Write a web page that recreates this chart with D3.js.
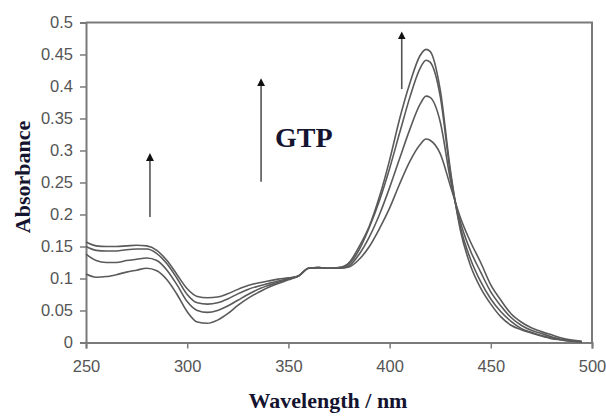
<!DOCTYPE html>
<html>
<head>
<meta charset="utf-8">
<script src="https://cdn.jsdelivr.net/npm/d3@7/dist/d3.min.js"></script>
<style>
  body { margin: 0; background: #fff; }
  svg { display: block; }
  .tick text { font-family: 'Liberation Sans', Arial, sans-serif; }
</style>
</head>
<body>
<svg></svg>
<script>
const width = 606;
const height = 416;

// wavelength grid (nm)
const wavelengths = [250, 255, 260, 265, 270, 275, 280, 285, 290, 295, 300, 305, 310, 315, 320, 325, 330, 335, 340, 345, 350, 355, 360, 365, 370, 375, 380, 385, 390, 395, 400, 405, 410, 415, 418, 420, 425, 430, 435, 440, 445, 450, 455, 460, 465, 470, 475, 480, 485, 490, 495];

// absorbance spectra, increasing GTP
const spec1 = [0.107, 0.102, 0.103, 0.106, 0.110, 0.113, 0.116, 0.112, 0.098, 0.075, 0.048, 0.032, 0.030, 0.035, 0.045, 0.058, 0.069, 0.078, 0.086, 0.092, 0.098, 0.104, 0.116, 0.117, 0.116, 0.116, 0.118, 0.130, 0.150, 0.178, 0.210, 0.248, 0.283, 0.309, 0.318, 0.316, 0.295, 0.245, 0.195, 0.157, 0.125, 0.090, 0.066, 0.045, 0.032, 0.023, 0.017, 0.012, 0.007, 0.004, 0.002];
const spec2 = [0.138, 0.128, 0.125, 0.125, 0.128, 0.130, 0.132, 0.128, 0.113, 0.090, 0.064, 0.050, 0.047, 0.050, 0.057, 0.066, 0.075, 0.083, 0.089, 0.094, 0.099, 0.104, 0.116, 0.117, 0.116, 0.116, 0.120, 0.138, 0.165, 0.200, 0.242, 0.288, 0.333, 0.372, 0.385, 0.383, 0.345, 0.255, 0.188, 0.143, 0.110, 0.079, 0.057, 0.039, 0.027, 0.019, 0.014, 0.009, 0.005, 0.003, 0.001];
const spec3 = [0.150, 0.144, 0.143, 0.143, 0.145, 0.146, 0.146, 0.139, 0.123, 0.100, 0.075, 0.062, 0.060, 0.062, 0.068, 0.076, 0.083, 0.088, 0.092, 0.096, 0.100, 0.104, 0.116, 0.117, 0.116, 0.117, 0.123, 0.145, 0.180, 0.222, 0.272, 0.328, 0.383, 0.428, 0.441, 0.438, 0.385, 0.265, 0.180, 0.130, 0.095, 0.068, 0.048, 0.033, 0.022, 0.016, 0.011, 0.007, 0.004, 0.002, 0.001];
const spec4 = [0.157, 0.151, 0.150, 0.150, 0.151, 0.152, 0.151, 0.144, 0.128, 0.106, 0.084, 0.072, 0.070, 0.071, 0.076, 0.083, 0.089, 0.093, 0.096, 0.099, 0.101, 0.104, 0.116, 0.117, 0.116, 0.117, 0.125, 0.150, 0.182, 0.228, 0.285, 0.350, 0.405, 0.448, 0.458, 0.455, 0.395, 0.270, 0.175, 0.120, 0.085, 0.060, 0.040, 0.027, 0.020, 0.015, 0.010, 0.006, 0.004, 0.002, 0.001];
const spectra = [spec1, spec2, spec3, spec4];

const xTicks = [250, 300, 350, 400, 450, 500];
const yTicks = [0, 0.05, 0.1, 0.15, 0.2, 0.25, 0.3, 0.35, 0.4, 0.45, 0.5];

// arrows: [wavelength, from absorbance, to absorbance]
const arrows = [[281.6, 0.196, 0.296], [336.5, 0.251, 0.413], [406, 0.396, 0.486]];
const label = { text: "GTP", x: 343.4, y: 0.305 };

const margin = { left: 86, right: 14, top: 22.5, bottom: 73.5 };

const svg = d3.select('svg').attr('width', width).attr('height', height);

const x = d3.scaleLinear().domain([250, 500]).range([margin.left, width - margin.right]);
const y = d3.scaleLinear().domain([0, 0.5]).range([height - margin.bottom, margin.top]);

const axisColor = '#7a7a7a';
const titleFont = "'Liberation Serif', 'Times New Roman', serif";

// frame (top / right)
svg.append('path')
    .attr('d', `M${x(250)},${y(0.5)}H${x(500)}V${y(0)}`)
    .attr('fill', 'none')
    .attr('stroke', axisColor)
    .attr('stroke-width', 2);

const xAxis = svg.append('g')
    .attr('transform', `translate(0,${y(0)})`)
    .call(d3.axisBottom(x).tickValues(xTicks).tickSize(6).tickPadding(12).tickFormat(d3.format('d')));
const yAxis = svg.append('g')
    .attr('transform', `translate(${x(250)},0)`)
    .call(d3.axisLeft(y).tickValues(yTicks).tickSize(6).tickPadding(7).tickFormat(d => String(d)));

[xAxis, yAxis].forEach(g => {
    g.select('.domain').attr('stroke', axisColor).attr('stroke-width', 2);
    g.selectAll('.tick line').attr('stroke', axisColor).attr('stroke-width', 1.5);
    g.selectAll('.tick text').attr('fill', '#555').style('font-size', '16.5px');
});

// spectra
const line = d3.line()
    .x((d, i) => x(wavelengths[i]))
    .y(d => y(d))
    .curve(d3.curveMonotoneX);

svg.append('g')
    .selectAll('path')
    .data(spectra)
    .enter().append('path')
    .attr('d', line)
    .attr('fill', 'none')
    .attr('stroke', '#5a5a5a')
    .attr('stroke-width', 1.6);

// arrows
svg.append('defs').append('marker')
    .attr('id', 'head')
    .attr('viewBox', '0 0 10 10')
    .attr('refX', 5).attr('refY', 5)
    .attr('markerWidth', 8).attr('markerHeight', 8)
    .attr('markerUnits', 'userSpaceOnUse')
    .attr('orient', 'auto')
    .append('path')
    .attr('d', 'M0,0L10,5L0,10Z')
    .attr('fill', '#111');

svg.append('g')
    .selectAll('line')
    .data(arrows)
    .enter().append('line')
    .attr('x1', d => x(d[0])).attr('x2', d => x(d[0]))
    .attr('y1', d => y(d[1])).attr('y2', d => y(d[2]) + 4)
    .attr('stroke', '#555')
    .attr('stroke-width', 1.6)
    .attr('marker-end', 'url(#head)');

svg.append('text')
    .attr('x', x(label.x))
    .attr('y', y(label.y))
    .attr('font-family', titleFont)
    .attr('font-weight', 'bold')
    .attr('font-size', 28)
    .attr('fill', '#141430')
    .text(label.text);

// axis titles
svg.append('text')
    .attr('x', 328)
    .attr('y', 408)
    .attr('text-anchor', 'middle')
    .attr('font-family', titleFont)
    .attr('font-weight', 'bold')
    .attr('font-size', 22)
    .attr('fill', '#141430')
    .text('Wavelength / nm');

svg.append('text')
    .attr('transform', `translate(30,177) rotate(-90)`)
    .attr('text-anchor', 'middle')
    .attr('font-family', titleFont)
    .attr('font-weight', 'bold')
    .attr('font-size', 22)
    .attr('fill', '#141430')
    .text('Absorbance');
</script>
</body>
</html>
